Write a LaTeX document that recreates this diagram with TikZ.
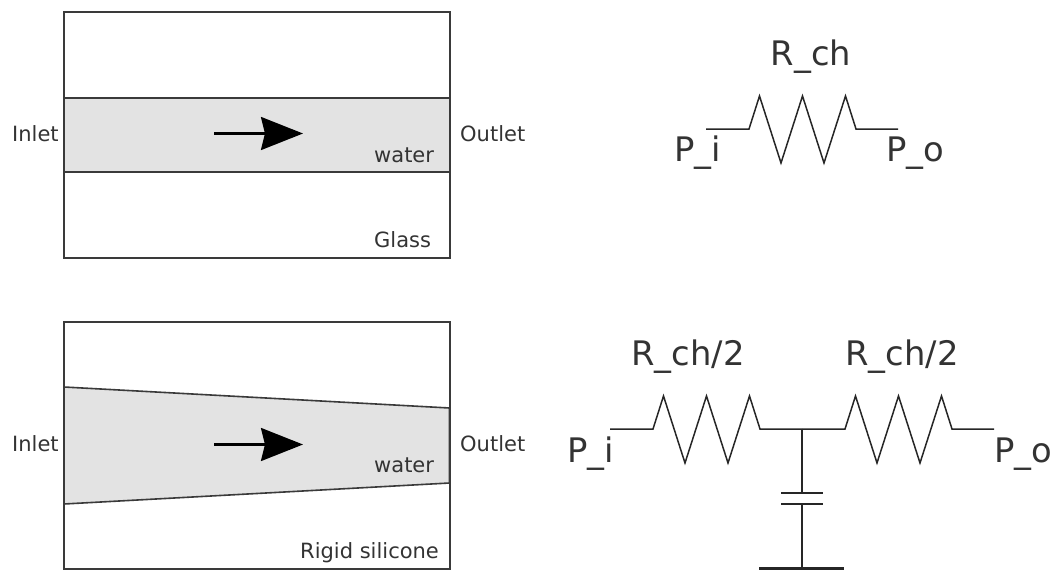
\documentclass[tikz,border=0pt]{standalone}
\usepackage{fontspec}
\setmainfont{DejaVu Sans}
\usetikzlibrary{arrows.meta}
\definecolor{channelgray}{HTML}{E3E3E3}
\definecolor{wallgray}{HTML}{3A3A3A}
\definecolor{labelgray}{HTML}{333333}
\tikzset{
  wall/.style={draw=wallgray,line width=2pt,line join=miter},
  wire/.style={draw=black!85,line width=1.5pt},
  small/.style={inner sep=0pt,text=labelgray,font=\fontsize{21}{25}\selectfont},
  big/.style={inner sep=0pt,text=labelgray,font=\fontsize{33.8}{40}\selectfont},
  flow/.style={-{Stealth[length=42pt,width=33pt,inset=4pt]},line width=2.4pt,black},
  resistor/.style={to path={(\tikztostart) -- ++(43,0) -- ++(10.5,-33)
    -- ++(21.5,67) -- ++(21.5,-67) -- ++(21.5,67) -- ++(21.5,-67) -- ++(10.5,33) -- (\tikztotarget)}}
}
\begin{document}
\begin{tikzpicture}[x=1pt,y=-1pt]
  \useasboundingbox (0,0) rectangle (1058,570);
  % glass chip
  \draw[wall,fill=white] (64,11.5) rectangle (449.5,258);
  \draw[wall,fill=channelgray] (64,97.5) rectangle (449.5,172);
  \node[small,anchor=base west] at (12,141.5) (inA) {Inlet};
  \node[small,anchor=base west] at (460,141.5) (outA) {Outlet};
  \node[small,anchor=base west] at (374,162) (waterA) {water};
  \node[small,anchor=base west] at (374,247) (glass) {Glass};
  \coordinate (tailA) at (214,133.5);
  \coordinate (tipA) at (303,133.5);
  \draw[flow] (tailA) -- (tipA);
  % silicone chip
  \draw[wall,fill=white] (64,322) rectangle (449.5,569);
  \draw[wall,line width=1.6pt,fill=channelgray] (64,387) -- (449.5,408) -- (449.5,483) -- (64,504) -- cycle;
  \node[small,anchor=base west] at (12,451.5) (inB) {Inlet};
  \node[small,anchor=base west] at (460,451.5) (outB) {Outlet};
  \node[small,anchor=base west] at (374,472.5) (waterB) {water};
  \node[small,anchor=base west] at (300,558) (silicone) {Rigid silicone};
  \coordinate (tailB) at (214,444.5);
  \coordinate (tipB) at (303,444.5);
  \draw[flow] (tailB) -- (tipB);
  % single resistor
  \coordinate (a1) at (706,129);
  \coordinate (a2) at (898,129);
  \draw[wire] (a1) to[resistor] (a2);
  \node[big,anchor=base] at (811,65) (rch) {R\_ch};
  \node[big,anchor=base west] at (674,161) (piA) {P\_i};
  \node[big,anchor=base west] at (886,161) (poA) {P\_o};
  % two resistors and capacitor
  \coordinate (b1) at (610,429);
  \coordinate (mid) at (802,429);
  \coordinate (b2) at (994,429);
  \coordinate (capT) at (802,493);
  \coordinate (capB) at (802,504);
  \coordinate (gnd) at (802,569);
  \draw[wire] (b1) to[resistor] (mid);
  \draw[wire] (mid) to[resistor] (b2);
  \draw[wire] (mid) -- (capT);
  \draw[wire] (capB) -- (gnd);
  \draw[wire] ([xshift=-21pt]capT) -- ([xshift=21pt]capT);
  \draw[wire] ([xshift=-21pt]capB) -- ([xshift=21pt]capB);
  \draw[wire,line width=3.5pt] ([xshift=-43pt]gnd) -- ([xshift=42pt]gnd);
  \node[big,anchor=base] at (688,365) (rchL) {R\_ch/2};
  \node[big,anchor=base] at (902,365) (rchR) {R\_ch/2};
  \node[big,anchor=base west] at (567,462) (piB) {P\_i};
  \node[big,anchor=base west] at (994,462) (poB) {P\_o};
\end{tikzpicture}
\end{document}
